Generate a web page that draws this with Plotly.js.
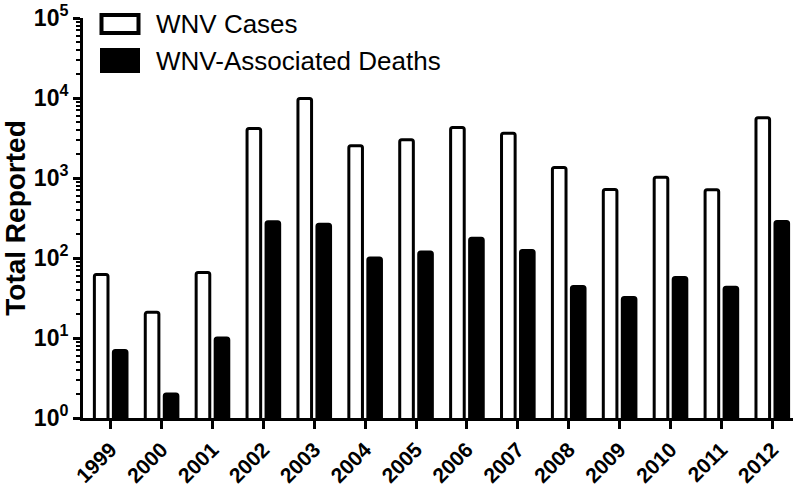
<!DOCTYPE html>
<html>
<head>
<meta charset="utf-8">
<script src="https://cdn.plot.ly/plotly-3.0.1.min.js"></script>
<style>html,body{margin:0;padding:0;background:#fff;}#chart{width:800px;height:489px;}</style>
</head>
<body>
<div id="chart"></div>
<script>
const years = ['1999','2000','2001','2002','2003','2004','2005','2006','2007','2008','2009','2010','2011','2012'];
const cases = [62, 21, 66, 4156, 9862, 2539, 3000, 4269, 3630, 1356, 720, 1021, 712, 5674];
const deaths = [7, 2, 10, 284, 264, 100, 119, 177, 124, 44, 32, 57, 43, 286];
const seriesNames = ['WNV Cases', 'WNV-Associated Deaths'];
const majorTickVals = [1, 10, 100, 1000, 10000, 100000];
const majorTickText = ['10<sup>0</sup>', '10<sup>1</sup>', '10<sup>2</sup>', '10<sup>3</sup>', '10<sup>4</sup>', '10<sup>5</sup>'];
const minorTickVals = [];
for (let e = 0; e < 5; e++) for (let d = 2; d <= 9; d++) minorTickVals.push(d * Math.pow(10, e));

const FONT = 'Liberation Sans, Arial, sans-serif';

const traces = [
  {type: 'bar', x: years, y: cases, name: seriesNames[0],
   marker: {color: '#ffffff', line: {color: '#000', width: 3}, cornerradius: 2}, showlegend: false},
  {type: 'bar', x: years, y: deaths, name: seriesNames[1],
   marker: {color: '#000000', line: {color: '#000', width: 3}, cornerradius: 2}, showlegend: false}
];

const L = 83, R = 793, T = 18, B = 418;
const px = v => (v - L) / (R - L);
const py = v => (B - v) / (B - T);

const layout = {
  width: 800, height: 489,
  margin: {l: L, r: 800 - R, t: T, b: 489 - B},
  paper_bgcolor: '#fff', plot_bgcolor: '#fff',
  barmode: 'group', bargap: 0.253, bargroupgap: 0.284,
  font: {family: FONT, color: '#000'},
  xaxis: {
    type: 'category', range: [-0.544, 13.407],
    showline: true, linecolor: '#000', linewidth: 3,
    ticks: 'outside', ticklen: 8, tickwidth: 3, tickcolor: '#000',
    tickangle: -45, tickfont: {family: FONT, size: 21, weight: 'bold', color: '#000'},
    showgrid: false, zeroline: false
  },
  yaxis: {
    type: 'log', range: [0, 5],
    showline: true, linecolor: '#000', linewidth: 3,
    ticks: 'outside', ticklen: 7, tickwidth: 3, tickcolor: '#000',
    tickmode: 'array', tickvals: majorTickVals, ticktext: majorTickText,
    tickfont: {family: FONT, size: 23, weight: 'bold', color: '#000'},
    showgrid: false, zeroline: false,
    title: {text: 'Total Reported', font: {family: FONT, size: 28, weight: 'bold', color: '#000'}, standoff: 4},
    minor: {ticks: 'outside', ticklen: 4, tickwidth: 2, tickcolor: '#000', tickmode: 'array', tickvals: minorTickVals, showgrid: false}
  },
  shapes: [
    {type: 'rect', xref: 'paper', yref: 'paper', x0: px(101.5), x1: px(138.5), y0: py(15), y1: py(33),
     line: {color: '#000', width: 4}, fillcolor: '#fff'},
    {type: 'rect', xref: 'paper', yref: 'paper', x0: px(100), x1: px(140), y0: py(48), y1: py(73),
     line: {color: '#000', width: 0}, fillcolor: '#000'}
  ],
  annotations: [
    {xref: 'paper', yref: 'paper', x: px(154), y: py(24), xanchor: 'left', yanchor: 'middle',
     text: seriesNames[0], showarrow: false, font: {family: FONT, size: 26, color: '#000'}},
    {xref: 'paper', yref: 'paper', x: px(154), y: py(61), xanchor: 'left', yanchor: 'middle',
     text: seriesNames[1], showarrow: false, font: {family: FONT, size: 26, color: '#000'}}
  ]
};

Plotly.newPlot('chart', traces, layout, {displayModeBar: false, staticPlot: true});
</script>
</body>
</html>
